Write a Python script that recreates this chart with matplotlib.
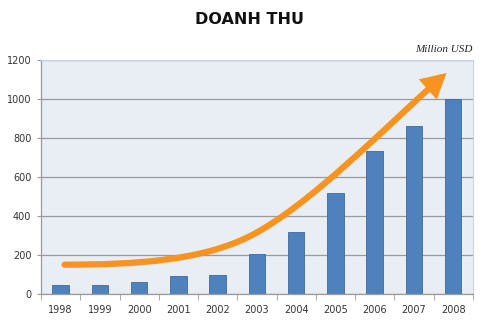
import numpy as np
import matplotlib.pyplot as plt
from matplotlib.path import Path
from matplotlib.patches import FancyArrowPatch

# --------datos---------
years = ['1998', '1999', '2000', '2001', '2002', '2003',
         '2004', '2005', '2006', '2007', '2008']
revenue = [46, 45, 60, 93, 97, 205, 320, 520, 733, 863, 1000]

# trend arrow (bezier vertices, data coords: category index, value)
arrow_x = [0.1, 2.0, 3.6, 4.8, 6.3, 8.3, 9.83]
arrow_y = [150, 150, 174, 294, 444, 860, 1133]
# --------datos---------

fig = plt.figure(figsize=(4.94, 3.31), dpi=100)
ax = fig.add_axes([0.083, 0.112, 0.874, 0.707])
ax.set_facecolor('#E9EDF4')

x = np.arange(len(years))
ax.bar(x, revenue, width=0.42, color='#4F81BD', edgecolor='#3C6AA3',
       linewidth=0.6, zorder=2)

ax.set_xlim(-0.5, len(years) - 0.5)
ax.set_ylim(0, 1200)
ax.set_yticks(np.arange(0, 1201, 200))
ax.grid(axis='y', color='#9A9A9A', linewidth=0.9, zorder=1)
ax.set_axisbelow(True)

ax.set_xticks(x)
ax.set_xticklabels(years)
ax.set_xticks(np.arange(-0.5, len(years), 1), minor=True)
ax.tick_params(axis='x', which='major', length=0, pad=8)
ax.tick_params(axis='x', which='minor', length=4, color='#9A9A9A')
ax.tick_params(axis='y', length=3, color='#9A9A9A', pad=4)
ax.tick_params(labelsize=7, labelcolor='#333333')

for s in ['top', 'right']:
    ax.spines[s].set_color('#C8D4E6')
    ax.spines[s].set_linewidth(0.8)
for s in ['left', 'bottom']:
    ax.spines[s].set_color('#9A9A9A')
    ax.spines[s].set_linewidth(0.9)

codes = [Path.MOVETO, Path.CURVE4, Path.CURVE4, Path.CURVE4,
         Path.CURVE4, Path.CURVE4, Path.CURVE4]
path = Path(list(zip(arrow_x, arrow_y)), codes)
arr = FancyArrowPatch(path=path, transform=ax.transData,
                      arrowstyle='-|>,head_length=0.55,head_width=0.3',
                      mutation_scale=20, color='#F7931E', linewidth=4.5,
                      joinstyle='miter', zorder=3, clip_on=False)
ax.add_patch(arr)

fig.text(0.506, 0.94, 'DOANH THU', ha='center', va='center',
         fontsize=11.5, fontweight='bold', color='#111111')
ax.text(1.0, 1.025, 'Million USD', transform=ax.transAxes, ha='right',
        va='bottom', fontsize=8, style='italic', family='Liberation Serif',
        color='#222222')

fig.savefig('out.png', dpi=100)
